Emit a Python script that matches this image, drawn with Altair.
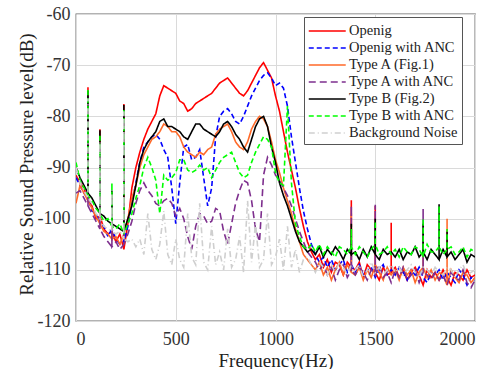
import altair as alt
import pandas as pd

# ---------------- data ----------------
freqs = list(range(0, 2001, 20))  # 20 Hz grid, 0..2000 Hz

series_names = [
    "Openig", "Openig with ANC", "Type A (Fig.1)", "Type A with ANC",
    "Type B (Fig.2)", "Type B with ANC", "Background Noise",
]

openig = [
    -91.5, -93.0, -94.0, -96.5, -97.5, -100.0, -99.5, -102.0, -103.0, -102.5,
    -104.5, -103.0, -106.0, -101.0, -94.0, -90.0, -87.0, -84.5, -82.5, -81.0,
    -79.5, -76.0, -74.0, -74.5, -75.0, -75.5, -77.0, -77.5, -79.0, -78.5,
    -77.5, -77.0, -76.5, -76.0, -75.5, -74.5, -73.5, -73.0, -72.5, -73.5,
    -74.5, -75.5, -76.0, -75.0, -73.5, -72.0, -70.5, -69.5, -71.0, -72.5,
    -76.0, -79.0, -83.0, -87.0, -90.5, -94.0, -98.0, -101.5, -104.5, -106.5,
    -108.0, -107.0, -109.5, -108.0, -110.5, -108.5, -109.0, -111.0, -108.5, -109.5,
    -110.0, -108.5, -111.5, -109.0, -110.0, -110.5, -112.0, -109.5, -111.0, -110.5,
    -109.5, -111.5, -110.0, -112.0, -110.5, -109.5, -111.0, -113.0, -110.0, -111.5,
    -110.5, -112.0, -110.0, -111.5, -113.0, -110.5, -111.0, -112.0, -110.0, -111.5,
    -111.0,
]
openig_anc = [
    -92.0, -93.5, -95.0, -96.0, -98.5, -99.0, -101.0, -101.5, -103.5, -102.0,
    -104.0, -105.0, -104.5, -101.5, -97.0, -93.0, -89.0, -86.0, -85.0, -84.0,
    -83.5, -84.5, -86.5, -88.0, -94.0, -101.0, -93.0, -86.0, -85.5, -88.5,
    -88.0, -86.5, -92.0, -97.5, -94.0, -84.0, -80.0, -79.0, -78.5, -79.5,
    -81.0, -81.5, -80.0, -78.0, -76.0, -74.5, -73.0, -72.0, -71.5, -72.5,
    -74.0, -73.5, -74.5, -78.0, -84.0, -89.0, -94.0, -98.5, -102.0, -105.0,
    -107.0, -108.5, -107.5, -109.5, -108.0, -110.0, -109.0, -108.0, -110.5, -109.0,
    -110.5, -109.0, -111.0, -110.0, -109.5, -111.5, -110.0, -109.0, -111.0, -110.0,
    -111.0, -109.5, -110.5, -112.0, -110.0, -111.0, -109.5, -111.5, -112.5, -110.5,
    -111.0, -110.0, -112.0, -110.5, -111.5, -112.5, -110.0, -111.0, -113.0, -111.5,
    -112.0,
]
type_a = [
    -97.0, -93.5, -95.0, -96.5, -98.0, -99.5, -101.0, -102.5, -103.0, -104.0,
    -103.5, -105.0, -103.0, -100.0, -96.0, -93.5, -90.0, -87.5, -86.0, -84.5,
    -84.0, -83.0, -81.5, -82.0, -83.0, -83.0, -84.0, -86.0, -87.0, -87.5,
    -88.0, -87.0, -87.5, -86.5, -86.0, -83.5, -82.5, -82.0, -81.5, -83.0,
    -85.0, -86.0, -86.5, -85.0, -82.5, -81.0, -80.0, -80.5, -82.0, -85.0,
    -88.5, -91.0, -94.0, -96.5, -99.0, -102.0, -104.5, -107.0, -108.0, -109.0,
    -110.0, -108.5, -111.0, -109.5, -112.0, -110.0, -108.5, -111.0, -109.0, -110.5,
    -111.0, -109.5, -112.0, -110.0, -111.5, -109.0, -110.5, -112.0, -109.5, -111.0,
    -110.0, -112.0, -109.5, -111.0, -110.0, -112.5, -110.5, -109.5, -111.5, -110.0,
    -112.0, -110.5, -111.0, -113.0, -110.0, -111.5, -112.5, -110.5, -111.0, -112.5,
    -111.5,
]
type_a_anc = [
    -95.0, -94.5, -96.0, -97.5, -99.0, -100.5, -102.0, -103.5, -104.5, -105.5,
    -104.5, -106.0, -105.0, -103.0, -100.5, -97.0, -94.5, -93.0, -94.5, -95.5,
    -97.0, -97.5, -96.5, -96.0, -97.0, -99.5, -98.0, -100.0, -103.5, -106.0,
    -101.5, -99.0, -99.5, -101.0, -100.5, -98.0, -98.5, -102.5, -105.0, -101.0,
    -97.0, -94.5, -92.5, -93.0, -96.5, -102.0, -104.5, -91.5, -88.0, -89.5,
    -91.5, -92.5, -94.0, -95.5, -97.5, -100.0, -102.5, -104.5, -106.5, -107.5,
    -108.5, -110.0, -109.0, -111.0, -109.5, -112.0, -110.0, -109.0, -111.5, -110.0,
    -111.0, -109.5, -110.5, -112.0, -110.0, -111.0, -109.0, -111.5, -110.5, -112.5,
    -110.0, -111.5, -109.5, -112.0, -111.0, -110.0, -112.5, -110.5, -111.0, -112.0,
    -110.5, -112.0, -111.0, -113.0, -110.5, -111.5, -112.0, -110.0, -112.5, -113.5,
    -112.0,
]
type_b = [
    -90.0, -92.0, -93.5, -95.0, -96.0, -97.5, -99.0, -99.5, -100.5, -101.0,
    -101.5, -102.0, -102.5, -100.0, -97.5, -93.5, -89.0, -86.5, -85.0, -84.0,
    -83.0, -81.0, -80.5, -82.0, -82.0, -82.5, -83.0, -84.0, -84.5, -83.0,
    -81.5, -81.5, -82.5, -83.0, -83.5, -84.0, -83.0, -81.5, -81.0, -82.0,
    -83.5, -84.5, -86.0, -87.0, -84.5, -82.0, -80.5, -80.0, -82.0, -86.0,
    -89.0, -93.0, -95.5, -97.5, -100.0, -102.5, -104.5, -105.5, -106.5, -106.0,
    -107.0, -105.5, -107.5, -106.0, -107.0, -105.5, -106.5, -108.0, -106.0, -107.0,
    -106.5, -108.0, -106.0, -107.5, -105.5, -107.0, -108.0, -106.0, -107.0, -106.5,
    -107.5, -106.0, -108.0, -106.5, -107.0, -105.5, -107.5, -106.5, -108.0, -106.0,
    -107.0, -108.0, -106.0, -107.5, -106.5, -108.0, -107.0, -106.0, -108.5, -107.0,
    -107.5,
]
type_b_anc = [
    -89.0, -92.5, -94.0, -95.5, -96.5, -98.0, -99.0, -100.5, -100.0, -101.5,
    -102.0, -101.0, -103.0, -101.0, -99.0, -96.0, -93.5, -90.0, -88.0, -90.0,
    -92.5, -99.0, -91.5, -92.5, -92.0, -91.0, -88.5, -88.5, -90.5, -91.0,
    -90.5, -89.5, -90.5, -90.0, -92.0, -90.5, -89.0, -88.0, -87.5, -87.0,
    -89.0, -91.0, -92.0, -91.5, -89.0, -87.0, -85.5, -84.0, -84.5, -86.0,
    -91.0, -93.0, -93.5, -78.0, -93.0, -101.0, -103.5, -105.5, -106.0, -105.0,
    -106.5, -105.0, -107.0, -105.5, -106.5, -107.5, -105.5, -106.0, -107.0, -105.5,
    -107.0, -105.5, -106.5, -107.5, -106.0, -105.0, -107.0, -106.5, -105.5, -107.0,
    -106.0, -107.5, -105.5, -106.5, -107.0, -105.5, -106.0, -107.5, -105.0, -106.5,
    -106.5, -105.5, -107.0, -106.0, -105.5, -107.0, -106.5, -105.5, -107.5, -106.0,
    -106.5,
]
background = [
    -90.0, -93.0, -94.5, -96.0, -97.0, -99.0, -100.0, -101.5, -102.0, -102.5,
    -103.0, -102.5, -104.0, -104.5, -104.0, -105.5, -104.0, -107.0, -99.0, -106.0,
    -108.0, -105.0, -98.5, -107.0, -109.0, -104.0, -108.0, -109.5, -99.0, -107.5,
    -109.0, -97.0, -108.5, -110.0, -101.5, -109.0, -106.5, -110.0, -102.0, -109.5,
    -108.0, -103.5, -110.5, -96.5, -108.5, -101.0, -109.5, -108.0, -99.0, -109.0,
    -107.5, -104.0, -110.0, -101.5, -109.5, -106.0, -110.5, -108.0, -107.5, -109.0,
    -110.5, -108.5, -109.5, -111.0, -109.0, -110.5, -108.5, -109.5, -111.0, -109.0,
    -110.0, -109.0, -111.5, -110.0, -108.5, -110.5, -109.5, -111.0, -110.0, -109.0,
    -110.5, -109.5, -111.0, -110.0, -109.0, -110.5, -111.5, -109.5, -110.0, -111.0,
    -109.5, -110.5, -111.0, -109.5, -110.0, -111.5, -110.0, -109.0, -111.0, -110.5,
    -110.0,
]

# narrow harmonic peaks: frequency and peak level per series (None = no peak)
spike_freqs = [60, 120, 180, 240, 1380, 1500, 1580, 1740, 1820, 1860]
spike_tops = {
    "Openig":           [-74.3, -82.5, -95.0, -77.6, -96.4, -97.5, -100.8, None, None, None],
    "Openig with ANC":  [-76.0, -85.0, -96.0, -80.0, -104.0, None, None, None, None, None],
    "Type A (Fig.1)":   [-75.5, -84.0, -95.5, -79.0, -99.0, None, None, -101.0, None, -100.0],
    "Type A with ANC":  [-76.0, -85.5, -96.0, -79.5, -97.5, -97.3, None, -98.1, None, None],
    "Type B (Fig.2)":   [-75.0, -82.7, -94.5, -77.8, -101.0, -100.0, None, -101.0, -97.2, -102.5],
    "Type B with ANC":  [-74.6, -83.5, -93.0, -78.5, -102.0, -100.5, None, -100.0, -97.5, -102.0],
    "Background Noise": [-76.5, -85.0, -95.0, -79.0, None, None, None, None, None, None],
}

series_values = [openig, openig_anc, type_a, type_a_anc, type_b, type_b_anc, background]
colors = ["#FF0000", "#0000FF", "#FF6A2A", "#7E2F8E", "#000000", "#00FF00", "#CFCFCF"]
dashes = [[1, 0], [5, 3], [1, 0], [7, 4], [1, 0], [5, 3], [6, 3, 1, 3]]

# ---------------- table ----------------
rows = []
for name, vals in zip(series_names, series_values):
    seq = 0
    tops = spike_tops[name]
    for f, v in zip(freqs, vals):
        rows.append({"series": name, "f": f, "db": v, "seq": seq}); seq += 1
        if f in spike_freqs:
            t = tops[spike_freqs.index(f)]
            if t is not None:
                rows.append({"series": name, "f": f, "db": t, "seq": seq}); seq += 1
                rows.append({"series": name, "f": f, "db": v, "seq": seq}); seq += 1
df = pd.DataFrame(rows)

FONT = "Liberation Serif"
HYPHEN = "replace(toString(datum.value), '\u2212', '-')"

chart = alt.Chart(df).mark_line(strokeWidth=1.6, clip=True).encode(
    x=alt.X("f:Q", scale=alt.Scale(domain=[0, 2000], nice=False),
            axis=alt.Axis(values=[0, 500, 1000, 1500, 2000], title="Frequency(Hz)",
                          labelExpr="toString(datum.value)",
                          labelFont=FONT, labelFontSize=18,
                          titleY=45, titleBaseline="alphabetic", labelPadding=9)),
    y=alt.Y("db:Q", scale=alt.Scale(domain=[-120, -60], nice=False),
            axis=alt.Axis(values=[-120, -110, -100, -90, -80, -70, -60],
                          title="Relative Sound Pressure level(dB)",
                          labelExpr=HYPHEN,
                          labelFont=FONT, labelFontSize=18,
                          titleX=-50, titleY=150, titleBaseline="middle", labelPadding=6)),
    color=alt.Color("series:N", scale=alt.Scale(domain=series_names, range=colors),
                    sort=series_names,
                    legend=alt.Legend(title=None, orient="none", legendX=228, legendY=3,
                                      symbolType="M-1,0L3,0", symbolSize=342, symbolStrokeWidth=1.5,
                                      labelFont=FONT, labelFontSize=14.5, labelColor="#222",
                                      padding=4, rowPadding=0, labelOffset=21,
                                      strokeColor="#555", fillColor="white")),
    strokeDash=alt.StrokeDash("series:N", scale=alt.Scale(domain=series_names, range=dashes),
                              sort=series_names, legend=alt.Legend(title=None)),
    order=alt.Order("seq:Q"),
).properties(
    width=399, height=307,
    padding={"left": 76, "top": 14, "right": 22, "bottom": 48},
    autosize=alt.AutoSizeParams(type="none"),
).configure_view(
    stroke="#666666", strokeWidth=1.3
).configure_axis(
    domain=False, ticks=False, grid=True, gridColor="#DADADA", gridWidth=1,
    labelFont=FONT, labelFontSize=18, labelColor="#333",
    titleFont=FONT, titleFontSize=19, titleFontWeight="normal", titleColor="#222",
)

chart.save("out.html", embed_options={"renderer": "svg", "actions": False})
